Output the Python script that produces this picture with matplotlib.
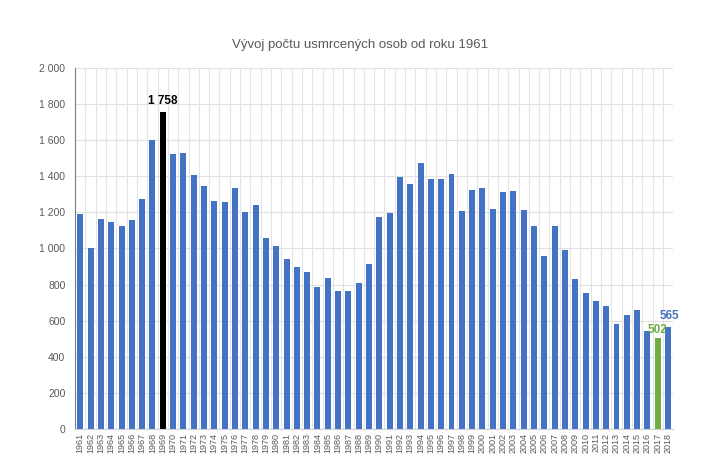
import matplotlib
matplotlib.use("Agg")
import matplotlib.pyplot as plt
from matplotlib.ticker import FuncFormatter, MultipleLocator

roky = list(range(1961, 2019))
usmrceni = [
    1190, 1000, 1165, 1145, 1125, 1160, 1275, 1600, 1758, 1525,
    1528, 1405, 1345, 1265, 1255, 1335, 1200, 1240, 1060, 1015,
    940, 895, 870, 785, 835, 765, 765, 810, 915, 1173,
    1194, 1393, 1355, 1473, 1384, 1386, 1410, 1207, 1322, 1336,
    1219, 1314, 1319, 1215, 1127, 956, 1123, 992, 832, 753,
    707, 681, 583, 629, 660, 545, 502, 565,
]

MODRA = "#4472C4"
CERNA = "#000000"
ZELENA = "#70AD47"
SEDA = "#595959"

plt.rcParams["font.family"] = ["Liberation Sans Narrow", "Liberation Sans", "DejaVu Sans"]

barvy = []
for rok in roky:
    if rok == 1969:
        barvy.append(CERNA)
    elif rok == 2017:
        barvy.append(ZELENA)
    else:
        barvy.append(MODRA)

fig = plt.figure(figsize=(7.02, 4.75), dpi=100)
ax = fig.add_axes([0.107, 0.097, 0.852, 0.76])

x = list(range(len(roky)))
ax.bar(x, usmrceni, width=0.58, color=barvy, zorder=3)

ax.set_xlim(-0.5, len(roky) - 0.5)
ax.set_ylim(0, 2000)
ax.yaxis.set_major_locator(MultipleLocator(200))
ax.yaxis.set_major_formatter(FuncFormatter(lambda v, p: f"{int(v):,}".replace(",", " ")))
ax.set_xticks(x)
ax.set_xticklabels([str(r) for r in roky], rotation=90, fontsize=6.5, color=SEDA)
ax.tick_params(axis="y", labelsize=7.5, colors=SEDA, length=0, pad=7)
ax.tick_params(axis="x", length=0, pad=3)

# svisla mrizka mezi kategoriemi
for i in range(len(roky) + 1):
    ax.axvline(i - 0.5, color="#E4E4E4", linewidth=0.8, zorder=1)
ax.grid(axis="y", color="#E0E0E0", linewidth=0.8, zorder=1)
ax.set_axisbelow(True)

for s in ["top", "right"]:
    ax.spines[s].set_visible(False)
ax.spines["left"].set_color("#7F7F7F")
ax.spines["bottom"].set_color("#D0D0D0")

i69 = roky.index(1969)
ax.text(i69, usmrceni[i69] + 25, "1 758", ha="center", va="bottom",
        fontsize=8.5, fontweight="bold", color=CERNA)
i17 = roky.index(2017)
ax.text(i17, usmrceni[i17] + 12, "502", ha="center", va="bottom",
        fontsize=8.5, fontweight="bold", color=ZELENA)
i18 = roky.index(2018)
ax.text(i18 + 0.1, usmrceni[i18] + 30, "565", ha="center", va="bottom",
        fontsize=8.5, fontweight="bold", color=MODRA)

fig.text(0.513, 0.905, "Vývoj počtu usmrcených osob od roku 1961", ha="center",
         va="center", fontsize=9.5, color=SEDA)

fig.savefig("out.png", dpi=100)
